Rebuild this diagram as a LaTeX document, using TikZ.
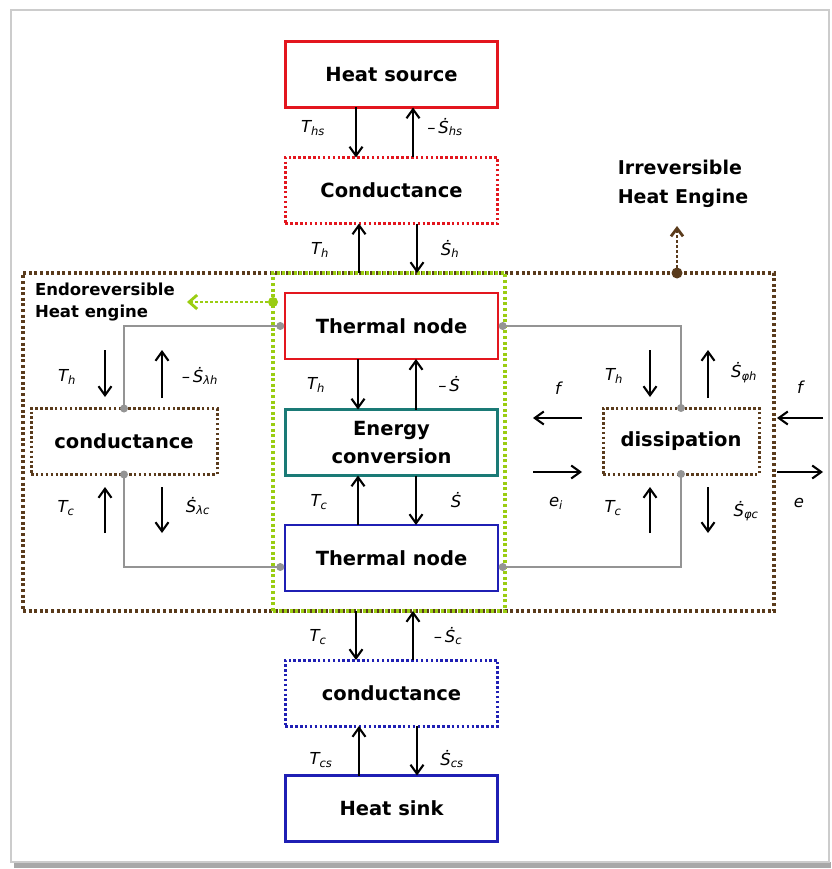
\documentclass[tikz,border=0pt]{standalone}
\usepackage{fontspec}
\setmainfont{DejaVu Sans}
\usetikzlibrary{arrows.meta}
\definecolor{cred}{HTML}{E3161E}
\definecolor{cteal}{HTML}{1A7A76}
\definecolor{cblue}{HTML}{1F1FB4}
\definecolor{cgreen}{HTML}{9ACD12}
\definecolor{cbrown}{HTML}{5A3B1C}
\definecolor{cgray}{HTML}{949494}
\definecolor{cframe}{HTML}{CCCCCC}
\definecolor{cshadow}{HTML}{A8A8A8}
\begin{document}
\begin{tikzpicture}[x=1pt,y=-1pt,
  every node/.style={inner sep=0pt,outer sep=0pt},
  blk/.style={draw,line width=2.6pt,minimum width=212.4pt,minimum height=66pt,
    font=\fontsize{19.5}{28}\selectfont\bfseries,align=center},
  dotblk/.style={blk,line width=3pt,dash pattern=on 2.5pt off 2.4pt},
  bigbox/.style={draw,line width=3.4pt,dash pattern=on 3pt off 2.6pt,minimum height=338pt},
  lab/.style={font=\fontsize{16.5}{16.5}\selectfont\itshape},
  title/.style 2 args={font=\fontsize{#1}{#2}\selectfont\bfseries},
  arr/.style={line width=2.1pt,-{Straight Barb[length=9pt,width=13pt]}},
  conn/.style={cgray,line width=2pt},
]
\useasboundingbox (0,0) rectangle (831,869);
% outer frame
\fill[cshadow] (14,862) rectangle (831,868);
\draw[cframe,line width=1.8pt,fill=white] (11,10) rectangle (829,862);

% big grouping boxes
\node[bigbox,draw=cbrown,minimum width=751pt] (irr) at (398.5,442) {};
\node[bigbox,draw=cgreen,minimum width=232pt] (endo) at (389,442) {};

% main column
\node[blk,draw=cred] (hs) at (391.5,74.5) {Heat source};
\node[dotblk,draw=cred] (c1) at (391.5,190.5) {Conductance};
\node[blk,draw=cred,line width=2.2pt] (tn1) at (391.5,326) {Thermal node};
\node[blk,draw=cteal] (ec) at (391.5,442.5) {Energy\\conversion};
\node[blk,draw=cblue,line width=2.2pt] (tn2) at (391.5,558) {Thermal node};
\node[dotblk,draw=cblue] (c2) at (391.5,693) {conductance};
\node[blk,draw=cblue] (hk) at (391.5,808.5) {Heat sink};

% side boxes
\node[dotblk,draw=cbrown,minimum width=186pt,minimum height=66pt] (lc) at (124,441.5) {conductance};
\node[dotblk,draw=cbrown,minimum width=156pt,minimum height=66pt] (dis) at (681,441) {dissipation};

% gray connectors
\coordinate (la) at ([xshift=-5pt]tn1.west);
\coordinate (lb) at ([xshift=-5pt,yshift=-9pt]tn2.west);
\coordinate (ra) at ([xshift=5pt]tn1.east);
\coordinate (rb) at ([xshift=5pt,yshift=-9pt]tn2.east);
\draw[conn] (la) -| (lc.north);
\draw[conn] (lc.south) |- (lb);
\draw[conn] (ra) -| (dis.north);
\draw[conn] (dis.south) |- (rb);
\foreach \p in {la,lb,ra,rb,lc.north,lc.south,dis.north,dis.south}
  \fill[cgray] (\p) circle (4pt);

% vertical arrows of the main column
\draw[arr] (hs.south -| 356,0) -- (c1.north -| 356,0);
\draw[arr] (c1.north -| 413,0) -- (hs.south -| 413,0);
\draw[arr] (endo.north -| 359,0) -- (c1.south -| 359,0);
\draw[arr] (c1.south -| 417,0) -- (endo.north -| 417,0);
\draw[arr] (tn1.south -| 358,0) -- (ec.north -| 358,0);
\draw[arr] (ec.north -| 416,0) -- (tn1.south -| 416,0);
\draw[arr] (tn2.north -| 358,0) -- (ec.south -| 358,0);
\draw[arr] (ec.south -| 416,0) -- (tn2.north -| 416,0);
\draw[arr] (endo.south -| 356,0) -- (c2.north -| 356,0);
\draw[arr] (c2.north -| 413,0) -- (endo.south -| 413,0);
\draw[arr] (hk.north -| 359,0) -- (c2.south -| 359,0);
\draw[arr] (c2.south -| 417,0) -- (hk.north -| 417,0);

% left side arrows
\draw[arr] (105,350) -- (105,397);
\draw[arr] (162,398) -- (162,350);
\draw[arr] (105,533) -- (105,487);
\draw[arr] (162,487) -- (162,533);
% right side arrows
\draw[arr] (650,350) -- (650,397);
\draw[arr] (708,398) -- (708,350);
\draw[arr] (650,533) -- (650,487);
\draw[arr] (708,487) -- (708,533);
\draw[arr] (582,418) -- (533,418);
\draw[arr] (533,472) -- (582,472);
\draw[arr] (823,418) -- (777,418);
\draw[arr] (777,472) -- (823,472);

% labels main column
\node[lab] at (313,128) {T\textsubscript{hs}};
\node[lab] at (445,127) {–\,Ṡ\textsubscript{hs}};
\node[lab] at (320,250) {T\textsubscript{h}};
\node[lab] at (450,249) {Ṡ\textsubscript{h}};
\node[lab] at (316,385) {T\textsubscript{h}};
\node[lab] at (449,384) {–\,Ṡ};
\node[lab] at (319,502) {T\textsubscript{c}};
\node[lab] at (456,500) {Ṡ};
\node[lab] at (318,637) {T\textsubscript{c}};
\node[lab] at (448,636) {–\,Ṡ\textsubscript{c}};
\node[lab] at (321,760) {T\textsubscript{cs}};
\node[lab] at (452,759) {Ṡ\textsubscript{cs}};
% labels left
\node[lab] at (67,377) {T\textsubscript{h}};
\node[lab] at (200,376) {–\,Ṡ\textsubscript{λh}};
\node[lab] at (66,508) {T\textsubscript{c}};
\node[lab] at (198,506) {Ṡ\textsubscript{λc}};
% labels right
\node[lab] at (614,376) {T\textsubscript{h}};
\node[lab] at (744,373) {Ṡ\textsubscript{φh}};
\node[lab] at (613,508) {T\textsubscript{c}};
\node[lab] at (746,511) {Ṡ\textsubscript{φc}};
\node[lab] at (558,388) {f};
\node[lab] at (556,503) {e\textsubscript{i}};
\node[lab] at (800,387) {f};
\node[lab] at (799,503) {e};

% group titles and their pointers
\node[title={16.5}{22},align=left,anchor=north west] (endot) at (35,283) {Endoreversible\\Heat engine};
\node[title={19}{29},align=left,anchor=north] (irrt) at (683,160) {Irreversible\\Heat Engine};
\coordinate (gstart) at (endo.west |- 0,302);
\coordinate (gend) at (187,302);
\draw[cgreen,line width=2.8pt,dash pattern=on 2.6pt off 2.4pt,
  -{Straight Barb[length=8pt,width=14pt]}] (gstart) -- (gend);
\fill[cgreen] (gstart) circle (5pt);
\coordinate (bstart) at (irr.north -| 677,0);
\coordinate (bend) at (677,226);
\draw[cbrown,line width=2.8pt,dash pattern=on 2.6pt off 2.4pt,
  -{Straight Barb[length=8pt,width=12pt]}] (bstart) -- (bend);
\fill[cbrown] (bstart) circle (5.5pt);
\end{tikzpicture}
\end{document}
